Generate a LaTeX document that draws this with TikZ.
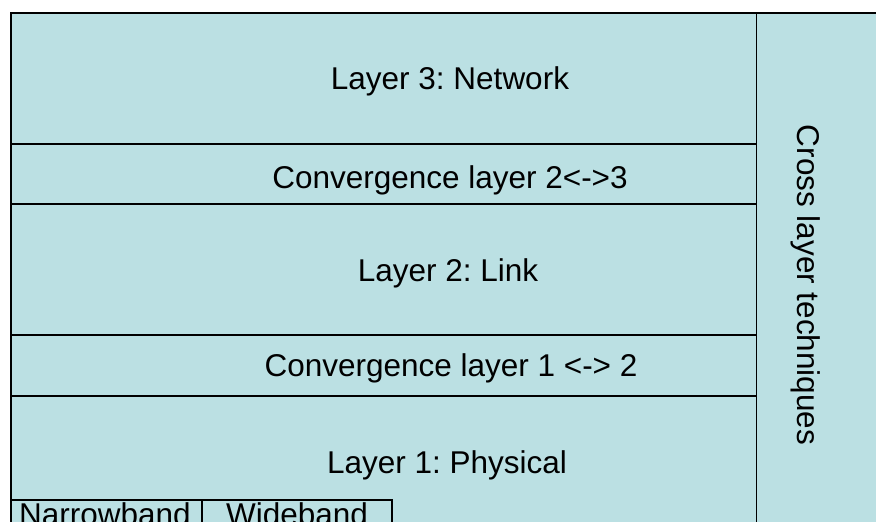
\documentclass[tikz,border=0pt]{standalone}
\usepackage{fontspec}
\setmainfont{Liberation Sans}
\frenchspacing
\definecolor{bandfill}{RGB}{187,224,227}
\begin{document}
\begin{tikzpicture}[x=1pt,y=-1pt,
  band/.style={draw=black, fill=bandfill, line width=1.2pt, rectangle,
    inner sep=0pt, outer sep=0pt, anchor=north west},
  lbl/.style={font=\fontsize{31.5}{36}\selectfont, inner sep=0pt, anchor=base}]
\useasboundingbox (0,0) rectangle (876,522);
\fill[white] (0,0) rectangle (876,522);
\clip (0,0) rectangle (876,522);

% protocol layers, top to bottom
\node[band, minimum width=745.5pt, minimum height=131pt] (l3)  at (11,13)  {};
\node[band, minimum width=745.5pt, minimum height=60pt]  (c23) at (11,144) {};
\node[band, minimum width=745.5pt, minimum height=131pt] (l2)  at (11,204) {};
\node[band, minimum width=745.5pt, minimum height=61pt]  (c12) at (11,335) {};
\node[band, minimum width=745.5pt, minimum height=150pt] (l1)  at (11,396) {};
\draw[line width=2pt] (l2.south west) -- (l2.south east);

% cross layer column on the right
\node[band, minimum width=140pt, minimum height=540pt] (cross) at (756.5,13) {};

% physical layer sub-blocks
\node[band, minimum width=191pt, minimum height=40pt] (nb) at (11,500)  {};
\node[band, minimum width=190pt, minimum height=40pt] (wb) at (202,500) {};

% labels
\node[lbl] (t3)  at (450,89)  {Layer 3: Network};
\node[lbl] (t23) at (450,188) {Convergence layer 2<->3};
\node[lbl] (t2)  at (448,281) {Layer 2: Link};
\node[lbl] (t12) at (451,376) {Convergence layer 1 <-> 2};
\node[lbl] (t1)  at (447,473) {Layer 1: Physical};
\node[lbl] (tnb) at (105,525) {Narrowband};
\node[lbl] (twb) at (297,525) {Wideband};
\node[lbl, rotate=-90] (tcross) at (797,285) {Cross layer techniques};
\end{tikzpicture}
\end{document}
